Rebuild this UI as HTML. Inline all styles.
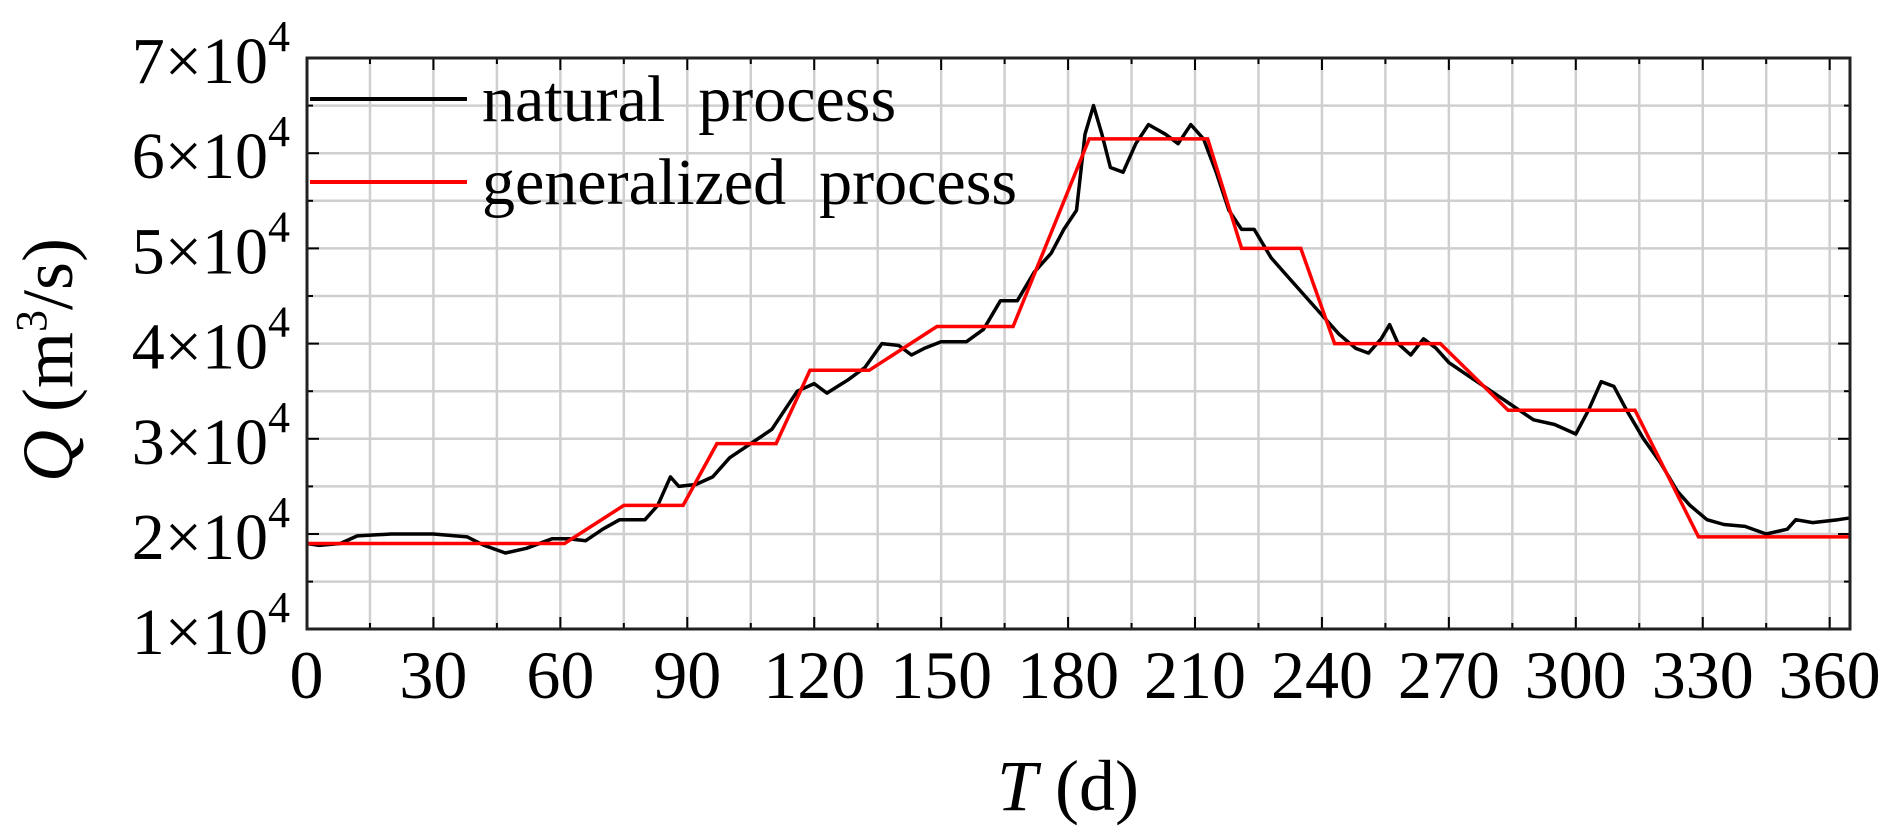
<!DOCTYPE html>
<html><head><meta charset="utf-8"><style>
html,body{margin:0;padding:0;background:#fff;}
svg{display:block;font-family:"Liberation Serif",serif;}
</style></head><body>
<svg width="1892" height="831" viewBox="0 0 1892 831" xmlns="http://www.w3.org/2000/svg">
<g id="grid" stroke="#cfcfcf" stroke-width="2.5"></g>
<g id="ticks" stroke="#000" stroke-width="2"></g>
<polyline id="black" fill="none" stroke="#000" stroke-width="3.5" stroke-linejoin="round"/>
<polyline id="red" fill="none" stroke="#ff0000" stroke-width="3.5"/>
<rect x="307" y="58" width="1543" height="571" fill="none" stroke="#222" stroke-width="3"/>
<g id="ylab" font-size="66" text-anchor="end"></g>
<g id="xlab" font-size="68" text-anchor="middle"></g>
<line x1="310" y1="99" x2="467" y2="99" stroke="#000" stroke-width="4"/>
<line x1="310" y1="182" x2="467" y2="182" stroke="#ff0000" stroke-width="4"/>
<text x="482" y="121" font-size="66">natural&#160;&#160;process</text>
<text x="482" y="204" font-size="66">generalized&#160;&#160;process</text>
<text x="1068" y="810" font-size="72" text-anchor="middle"><tspan font-style="italic">T</tspan> (d)</text>
<text transform="translate(72,360) rotate(-90)" font-size="72" text-anchor="middle"><tspan font-style="italic">Q</tspan> (m<tspan font-size="44" dy="-26">3</tspan><tspan dy="26">/s)</tspan></text>
</svg>
<script>
const X=d=>306.5+d*4.231, Y=v=>58+(7-v)*95.2;
const ns="http://www.w3.org/2000/svg";
const g=document.getElementById('grid'),t=document.getElementById('ticks');
function ln(p,a){const l=document.createElementNS(ns,'line');for(const k in a)l.setAttribute(k,a[k]);p.appendChild(l);}
for(let d=15;d<=360;d+=15){const x=X(d);ln(g,{x1:x,y1:58,x2:x,y2:629});
 const L=d%30==0?12:6;ln(t,{x1:x,y1:629,x2:x,y2:629-L});ln(t,{x1:x,y1:58,x2:x,y2:58+L});}
for(let v=1.5;v<7;v+=0.5){const y=Y(v);ln(g,{x1:307,y1:y,x2:1850,y2:y});
 const L=v%1==0?12:6;ln(t,{x1:307,y1:y,x2:307+L,y2:y});ln(t,{x1:1850,y1:y,x2:1850-L,y2:y});}
const yl=document.getElementById('ylab');
for(let v=1;v<=7;v++){const e=document.createElementNS(ns,'text');e.setAttribute('x',290);e.setAttribute('y',Y(v)+25);
 e.innerHTML=v+'×10<tspan font-size="44" dy="-32">4</tspan>';yl.appendChild(e);}
const xl=document.getElementById('xlab');
for(let d=0;d<=360;d+=30){const e=document.createElementNS(ns,'text');e.setAttribute('x',X(d));e.setAttribute('y',698);e.textContent=d;xl.appendChild(e);}
const blk=[[0,1.9],[3,1.88],[8,1.9],[12,1.98],[20,2.0],[30,2.0],[38,1.97],[42,1.88],[47,1.8],[52,1.85],[58,1.95],[62,1.95],[66,1.93],[70,2.05],[74,2.15],[80,2.15],[83,2.3],[86,2.6],[88,2.5],[92,2.52],[96,2.6],[100,2.8],[105,2.95],[110,3.1],[113,3.3],[116,3.5],[120,3.58],[123,3.48],[128,3.62],[132,3.75],[136,4.0],[140,3.98],[143,3.88],[146,3.95],[150,4.02],[156,4.02],[160,4.15],[164,4.45],[168,4.45],[172,4.75],[176,4.95],[179,5.2],[182,5.4],[184,6.2],[186,6.5],[188,6.2],[190,5.85],[193,5.8],[196,6.1],[199,6.3],[203,6.2],[206,6.1],[209,6.3],[212,6.15],[215,5.8],[218,5.4],[221,5.2],[224,5.2],[228,4.9],[232,4.7],[236,4.5],[240,4.3],[244,4.1],[248,3.95],[251,3.9],[254,4.05],[256,4.2],[258,4.0],[261,3.88],[264,4.05],[267,3.95],[270,3.8],[275,3.65],[280,3.5],[285,3.35],[290,3.2],[295,3.15],[300,3.05],[303,3.3],[306,3.6],[309,3.55],[312,3.3],[316,3.0],[320,2.75],[324,2.45],[327,2.3],[331,2.15],[335,2.1],[340,2.08],[345,2.0],[350,2.05],[352,2.15],[356,2.12],[362,2.15],[365,2.17]];
const red=[[0,1.9],[61,1.9],[75,2.3],[89,2.3],[97,2.95],[111,2.95],[119,3.72],[133,3.72],[149,4.18],[167,4.18],[185,6.15],[213,6.15],[221,5.0],[235,5.0],[243,4.0],[268,4.0],[284,3.3],[314,3.3],[329,1.97],[365,1.97]];
const pts=a=>a.map(p=>X(p[0]).toFixed(1)+','+Y(p[1]).toFixed(1)).join(' ');
document.getElementById('black').setAttribute('points',pts(blk));
document.getElementById('red').setAttribute('points',pts(red));
</script>
</body></html>
